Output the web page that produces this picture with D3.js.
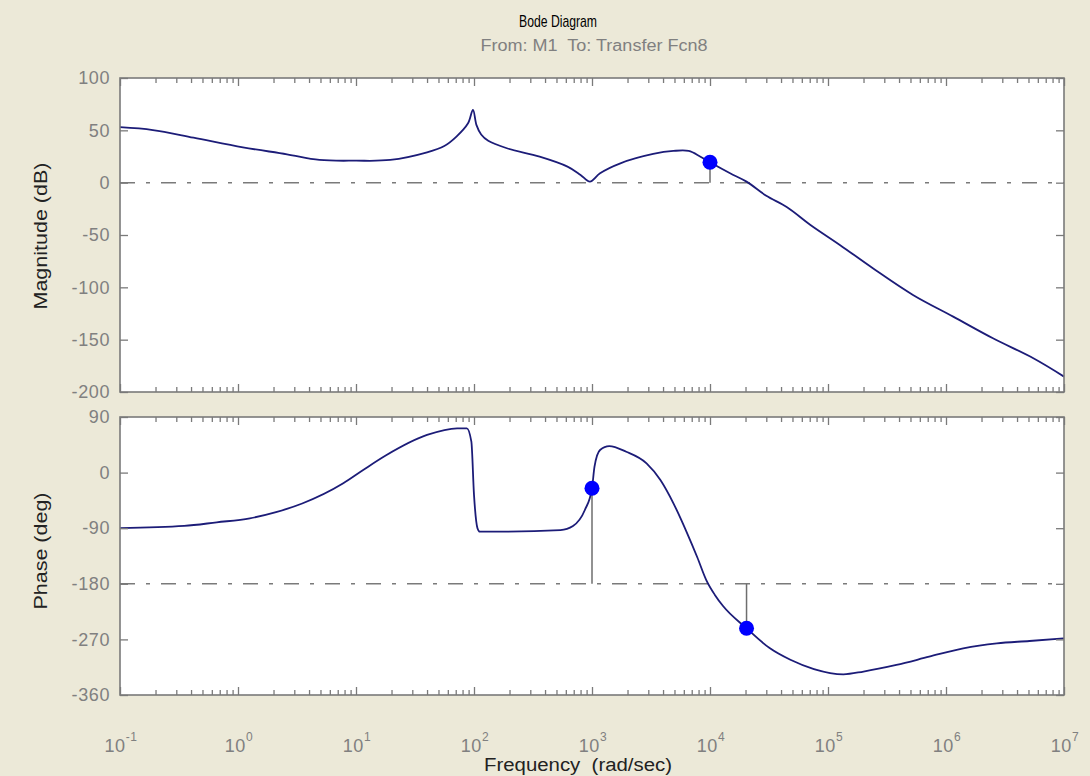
<!DOCTYPE html>
<html><head><meta charset="utf-8">
<script src="https://cdn.jsdelivr.net/npm/d3@7"></script>
<style>
html,body{margin:0;padding:0;background:#ECE9D8;}
svg{display:block;}
text{font-family:"Liberation Sans",Arial,sans-serif; white-space:pre;}
</style></head>
<body>
<svg id="chart" width="1090" height="776"></svg>
<script>
// ---- data ----
const magFreq = [0.1, 0.19, 0.42, 1.1, 2.6, 4.9, 10, 19.5, 40, 56, 71, 89, 98, 105, 115, 132, 190, 360, 620, 800, 960, 1170, 1740, 3300, 4900, 6600, 8300, 10000, 14800, 20400, 30000, 45000, 71000, 126000, 240000, 525000, 1150000, 2500000, 5500000, 10000000];
const magDb   = [53, 50.3, 43, 33.8, 27.1, 21.7, 21, 21.7, 29, 35, 44, 56.7, 69.5, 55, 46, 40, 32.9, 24.8, 15.3, 7.4, 1.0, 9, 18.5, 27.4, 30.3, 30.3, 24.8, 19.5, 9, 1, -12.5, -23.5, -40.4, -59.5, -81.8, -107.3, -128, -148.7, -167.8, -185.3];
const phFreq  = [0.1, 0.35, 0.66, 1.26, 2.1, 3.5, 7.8, 11.5, 18, 40, 72, 87, 95, 100, 107, 112, 138, 540, 690, 870, 1000, 1050, 1170, 1400, 1950, 2900, 3800, 4900, 6300, 7800, 9300, 11000, 12900, 20400, 32000, 48000, 76000, 135000, 200000, 380000, 720000, 1400000, 2700000, 5100000, 10000000];
const phDeg   = [-90, -86.4, -80.5, -74, -64, -50, -17.3, 4.2, 28, 60.9, 71.7, 71.7, 50, -36, -90, -95.7, -95.7, -93, -86.4, -60.5, -25.4, 9.6, 36.6, 43, 33.8, 15, -12, -49.7, -95, -137, -174, -198, -216, -252, -284, -303, -318, -326.5, -322, -311.4, -298, -284.4, -276.3, -272.6, -268.2];
const magMarkers = [{f: 10000, v: 19.5}];
const phMarkers  = [{f: 1000, v: -25.4}, {f: 20400, v: -252}];
const magRef = 0, phRef = -180;
const magTicks = [100, 50, 0, -50, -100, -150, -200];
const phTicks  = [90, 0, -90, -180, -270, -360];
const decadeExp = [-1, 0, 1, 2, 3, 4, 5, 6, 7];
const titleText = "Bode Diagram";
const subtitleText = "From: M1  To: Transfer Fcn8";
const magLabel = "Magnitude (dB)";
const phLabel = "Phase (deg)";
const xLabel = "Frequency  (rad/sec)";

// ---- layout ----
const svg = d3.select("#chart");
const L = 120, R = 1064;
const top1 = 78, bot1 = 392, top2 = 417, bot2 = 695;
const axisCol = "#7a7a7a", lineCol = "#1c1c78", markCol = "#0000ff", refCol = "#7a7a7a";
const labCol = "#808080";

const x = d3.scaleLog().domain([0.1, 1e7]).range([L, R]);
const yM = d3.scaleLinear().domain([-200, 100]).range([bot1, top1]);
const yP = d3.scaleLinear().domain([-360, 90]).range([bot2, top2]);

const majors = decadeExp.map(e => Math.pow(10, e));
const minors = [];
majors.slice(0, -1).forEach(m => { for (let k = 2; k <= 9; k++) minors.push(m * k); });

function panel(y, top, bot, ticks, freq, vals, markers, ref, curve) {
  const g = svg.append("g");
  g.append("rect").attr("x", L).attr("y", top).attr("width", R - L).attr("height", bot - top).attr("fill", "#fff");

  g.append("line").attr("x1", L).attr("x2", R).attr("y1", y(ref)).attr("y2", y(ref))
    .attr("stroke", refCol).attr("stroke-width", 1.5).attr("stroke-dasharray", "15,11,4,11");

  g.selectAll(".stem").data(markers).join("line")
    .attr("x1", d => x(d.f)).attr("x2", d => x(d.f))
    .attr("y1", d => y(d.v)).attr("y2", y(ref))
    .attr("stroke", "#6e6e6e").attr("stroke-width", 1.5);

  const pts = freq.map((f, i) => [f, vals[i]]);
  g.append("path").datum(pts)
    .attr("d", d3.line().x(d => x(d[0])).y(d => y(d[1])).curve(curve))
    .attr("fill", "none").attr("stroke", lineCol).attr("stroke-width", 1.8);

  g.selectAll(".mk").data(markers).join("circle")
    .attr("cx", d => x(d.f)).attr("cy", d => y(d.v)).attr("r", 7.5)
    .attr("fill", markCol);

  const ax = svg.append("g");
  ax.append("g").attr("transform", `translate(${L},0)`)
    .call(d3.axisLeft(y).tickValues(ticks).tickSize(-8).tickPadding(10).tickFormat(d => String(d)));
  ax.append("g").attr("transform", `translate(${R},0)`)
    .call(d3.axisRight(y).tickValues(ticks).tickSize(-8).tickFormat(""));
  ax.append("g").attr("transform", `translate(0,${top})`)
    .call(d3.axisTop(x).tickValues(majors).tickSize(-8).tickFormat(""));
  ax.append("g").attr("transform", `translate(0,${top})`)
    .call(d3.axisTop(x).tickValues(minors).tickSize(-5).tickFormat(""));
  ax.append("g").attr("transform", `translate(0,${bot})`)
    .call(d3.axisBottom(x).tickValues(majors).tickSize(-8).tickFormat(""));
  ax.append("g").attr("transform", `translate(0,${bot})`)
    .call(d3.axisBottom(x).tickValues(minors).tickSize(-5).tickFormat(""));
  ax.selectAll(".domain").remove();
  ax.selectAll("line").attr("stroke", axisCol).attr("stroke-width", 1.3);
  ax.selectAll("text").attr("fill", labCol).style("font-size", "18px").style("letter-spacing", "0.6px")
    .style("font-family", "'Liberation Sans', Arial, sans-serif");
  ax.append("rect").attr("x", L).attr("y", top).attr("width", R - L).attr("height", bot - top)
    .attr("fill", "none").attr("stroke", axisCol).attr("stroke-width", 1.6);
}

panel(yM, top1, bot1, magTicks, magFreq, magDb, magMarkers, magRef, d3.curveCatmullRom.alpha(0.5));
panel(yP, top2, bot2, phTicks, phFreq, phDeg, phMarkers, phRef, d3.curveMonotoneX);

// x decade labels
const xl = svg.append("g");
decadeExp.forEach(e => {
  const t = xl.append("text").attr("x", x(Math.pow(10, e)) + 1).attr("y", 752)
    .attr("text-anchor", "middle").attr("fill", labCol).style("font-size", "18px").style("letter-spacing", "0.6px");
  t.append("tspan").text("10");
  t.append("tspan").attr("dy", -11).style("font-size", "12px").text(String(e));
});

// titles
svg.append("text").attr("x", 558).attr("y", 27).attr("text-anchor", "middle")
  .attr("fill", "#000").style("font-size", "17px")
  .attr("textLength", 78).attr("lengthAdjust", "spacingAndGlyphs").text(titleText);
svg.append("text").attr("x", 594).attr("y", 51).attr("text-anchor", "middle")
  .attr("fill", labCol).style("font-size", "16px")
  .attr("textLength", 227).attr("lengthAdjust", "spacingAndGlyphs").text(subtitleText);
svg.append("text").attr("x", 578).attr("y", 771).attr("text-anchor", "middle")
  .attr("fill", "#222").style("font-size", "18px")
  .attr("textLength", 188).attr("lengthAdjust", "spacingAndGlyphs").text(xLabel);
svg.append("text").attr("transform", `translate(47,236) rotate(-90)`).attr("text-anchor", "middle")
  .attr("fill", "#222").style("font-size", "18px")
  .attr("textLength", 147).attr("lengthAdjust", "spacingAndGlyphs").text(magLabel);
svg.append("text").attr("transform", `translate(47,551) rotate(-90)`).attr("text-anchor", "middle")
  .attr("fill", "#222").style("font-size", "18px")
  .attr("textLength", 117).attr("lengthAdjust", "spacingAndGlyphs").text(phLabel);
</script>
</body></html>
